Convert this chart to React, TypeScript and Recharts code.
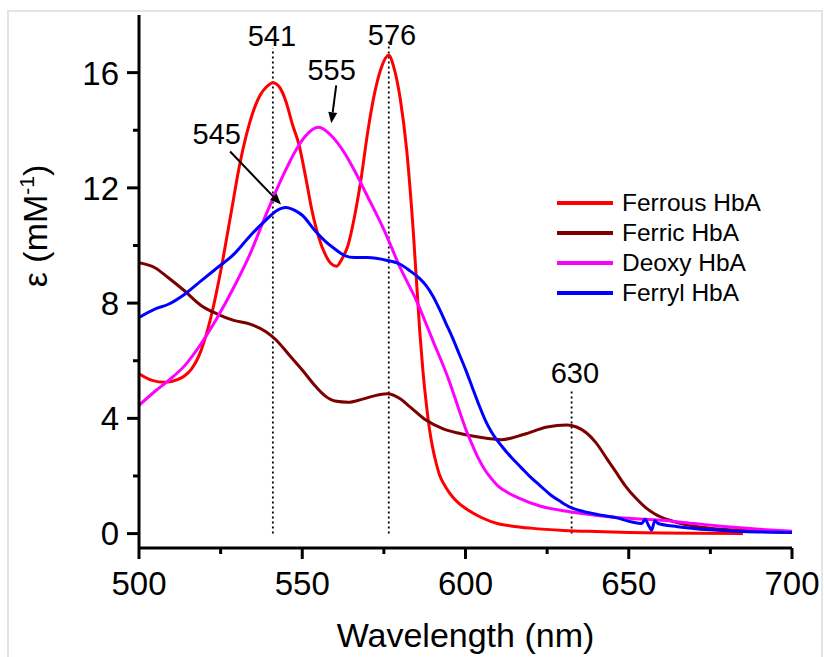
import { LineChart, Line, XAxis, YAxis, ReferenceLine, ReferenceDot, Legend } from 'recharts'

// Ferrous HbA (red)
const ferrousWl = [500, 504, 508, 512, 514, 516, 519, 522, 525, 528, 531, 534, 537, 539, 541, 543, 545, 547, 549, 551, 553, 555, 557, 559, 560.5, 562, 564, 566, 568, 570, 572, 574, 576.5, 578, 580, 582, 584, 586, 587, 588, 589, 590, 591, 592, 594, 596, 598, 601, 605, 610, 615, 620, 630, 640, 650, 660, 670, 685]
const ferrousEps = [5.55, 5.32, 5.25, 5.35, 5.48, 5.7, 6.35, 7.5, 9.1, 11.0, 12.9, 14.3, 15.2, 15.5, 15.65, 15.5, 15.0, 14.2, 13.5, 12.4, 11.2, 10.3, 9.7, 9.35, 9.28, 9.5, 10.0, 11.0, 12.3, 13.9, 15.2, 16.1, 16.6, 16.2, 15.1, 13.3, 10.5, 7.0, 5.6, 4.5, 3.6, 2.95, 2.45, 2.05, 1.6, 1.28, 1.05, 0.8, 0.55, 0.34, 0.25, 0.19, 0.11, 0.07, 0.04, 0.02, 0.01, 0]

// Ferric HbA (dark red)
const ferricWl = [500, 505, 509, 514, 519, 524, 529, 534, 539, 542, 546, 550, 554, 557, 560, 564, 568, 572, 576, 580, 583, 588, 593, 598, 604, 611, 618, 625, 631, 634, 637, 640, 643, 646, 649, 652, 655, 658, 662, 666, 670, 680, 690, 700]
const ferricEps = [9.4, 9.22, 8.88, 8.42, 7.92, 7.62, 7.4, 7.27, 7.0, 6.72, 6.2, 5.68, 5.12, 4.78, 4.6, 4.56, 4.65, 4.78, 4.85, 4.68, 4.4, 3.93, 3.64, 3.48, 3.35, 3.26, 3.45, 3.7, 3.77, 3.7, 3.5, 3.15, 2.65, 2.15, 1.65, 1.25, 0.92, 0.68, 0.48, 0.35, 0.26, 0.14, 0.08, 0.05]

// Deoxy HbA (magenta)
const deoxyWl = [500, 505, 509, 514, 519, 524, 529, 534, 539, 544, 548, 551, 555, 559, 563, 566, 570, 575, 580, 585, 590, 595, 598, 600, 602, 604, 606, 608, 610, 613, 616, 623, 632, 641, 650, 660, 670, 680, 690, 700]
const deoxyEps = [4.45, 4.95, 5.31, 5.83, 6.59, 7.5, 8.54, 9.7, 11.1, 12.4, 13.3, 13.8, 14.1, 13.8, 13.2, 12.6, 11.7, 10.55, 9.23, 8.08, 6.7, 5.3, 4.3, 3.65, 3.1, 2.6, 2.2, 1.9, 1.65, 1.42, 1.25, 0.95, 0.76, 0.62, 0.53, 0.46, 0.35, 0.24, 0.15, 0.08]

// Ferryl HbA (blue)
const ferrylWl = [500, 505, 509, 514, 519, 524, 529, 534, 539, 542, 545, 548, 550, 554, 557, 560, 563, 566, 570, 576, 580, 583, 586, 588, 590, 592, 594, 596, 598, 600, 602, 604, 606, 608, 611, 614, 617, 620, 623, 626, 629, 632, 635, 641, 647, 651, 654, 655, 656, 657, 658, 659, 665, 675, 685, 700]
const ferrylEps = [7.5, 7.8, 7.96, 8.31, 8.77, 9.23, 9.69, 10.33, 10.9, 11.2, 11.32, 11.2, 11.05, 10.5, 10.15, 9.88, 9.65, 9.58, 9.58, 9.48, 9.35, 9.12, 8.85, 8.6, 8.25, 7.8, 7.3, 6.8, 6.25, 5.7, 5.1, 4.5, 3.95, 3.52, 3.05, 2.65, 2.3, 1.95, 1.65, 1.35, 1.12, 0.92, 0.8, 0.65, 0.53, 0.4, 0.35, 0.5, 0.3, 0.12, 0.45, 0.35, 0.24, 0.13, 0.07, 0.04]

const seriesNames = ['Ferrous HbA', 'Ferric HbA', 'Deoxy HbA', 'Ferryl HbA']
const seriesColors = ['#ff0000', '#7d0000', '#ff00ff', '#0000ff']

const xTicks = [500, 525, 550, 575, 600, 625, 650, 675, 700]
const yTicks = [0, 2, 4, 6, 8, 10, 12, 14, 16]

// dotted markers at the band maxima
const markerWl = [541, 576.5, 632.5]
const markerTop = [16.85, 17.1, 5.0]

// peak labels
const peakText = ['541', '576', '630', '555', '545']
const peakLabelWl = [540.7, 577.5, 633.5, 559, 523.8]
const peakLabelEps = [17.27, 17.33, 5.6, 16.1, 13.9]

// arrows pointing at the 555 / 545 maxima
const arrowFromWl = [560.4, 527.9]
const arrowFromEps = [15.56, 13.26]
const arrowToWl = [558.9, 543.5]
const arrowToEps = [14.24, 11.42]

const FONT = '"Liberation Sans", Arial, Helvetica, sans-serif'

const zip = (xs: number[], ys: number[]) => xs.map((x, i) => ({ x, y: ys[i] }))
const seriesData = [
  zip(ferrousWl, ferrousEps),
  zip(ferricWl, ferricEps),
  zip(deoxyWl, deoxyEps),
  zip(ferrylWl, ferrylEps),
]

const XTick = (p: any) => {
  const v = p.payload.value
  const major = v % 50 === 0
  return (
    <g>
      <line x1={p.x} x2={p.x} y1={p.y} y2={p.y + (major ? 11 : 6)} stroke="#000" strokeWidth={3} />
      {major && (
        <text x={p.x} y={p.y + 47} textAnchor="middle" fontSize={33} fontFamily={FONT} fill="#000">
          {v}
        </text>
      )}
    </g>
  )
}

const YTick = (p: any) => {
  const v = p.payload.value
  const major = v % 4 === 0
  return (
    <g>
      <line x1={p.x} x2={p.x - (major ? 12 : 6)} y1={p.y} y2={p.y} stroke="#000" strokeWidth={3} />
      {major && (
        <text x={p.x - 20} y={p.y} dy="0.36em" textAnchor="end" fontSize={33} fontFamily={FONT} fill="#000">
          {v}
        </text>
      )}
    </g>
  )
}

const XTitle = (p: any) => {
  const vb = p.viewBox
  return (
    <text x={vb.x + vb.width / 2} y={vb.y + 99} textAnchor="middle" fontSize={34} fontFamily={FONT} fill="#000">
      Wavelength (nm)
    </text>
  )
}

const YTitle = (p: any) => {
  const vb = p.viewBox
  return (
    <text
      transform={`translate(${vb.x - 12}, ${vb.y + 211}) rotate(-90)`}
      textAnchor="middle"
      fontSize={34}
      fontFamily={FONT}
      fill="#000"
    >
      <tspan>ε (mM</tspan>
      <tspan dy={-13} fontSize={21}>-1</tspan>
      <tspan dy={13}>)</tspan>
    </text>
  )
}

const Arrow = (p: any) => {
  const { x1, y1, x2, y2 } = p
  const dx = x2 - x1
  const dy = y2 - y1
  const len = Math.sqrt(dx * dx + dy * dy)
  const ux = dx / len
  const uy = dy / len
  const hl = 11
  const hw = 4.5
  const bx = x2 - ux * hl
  const by = y2 - uy * hl
  return (
    <g>
      <line x1={x1} y1={y1} x2={bx} y2={by} stroke="#000" strokeWidth={2} />
      <polygon
        points={`${x2},${y2} ${bx - uy * hw},${by + ux * hw} ${bx + uy * hw},${by - ux * hw}`}
        fill="#000"
      />
    </g>
  )
}

const LegendBox = () => (
  <div style={{ fontFamily: FONT }}>
    {seriesNames.map((name, i) => (
      <div key={name} style={{ display: 'flex', alignItems: 'center', height: 30 }}>
        <div style={{ width: 56, height: 4, background: seriesColors[i], marginRight: 9 }} />
        <span style={{ fontSize: 24.5, color: '#000', lineHeight: '30px' }}>{name}</span>
      </div>
    ))}
  </div>
)

export default function App() {
  return (
    <div style={{ position: 'absolute', left: 0, top: 0, width: 824, height: 657, background: '#fff', overflow: 'hidden' }}>
      <div
        style={{
          position: 'absolute',
          left: 7,
          top: 10,
          width: 816,
          height: 660,
          border: '2px solid #e4e4e4',
          boxSizing: 'border-box',
        }}
      />
      <div style={{ position: 'absolute', left: 0, top: 0 }}>
        <LineChart width={824} height={657} margin={{ top: 15, right: 32, bottom: 0, left: 59 }}>
          <XAxis
            type="number"
            dataKey="x"
            domain={[500, 700]}
            allowDataOverflow
            ticks={xTicks}
            interval={0}
            height={109}
            tickSize={0}
            tickMargin={0}
            tickLine={false}
            tick={<XTick />}
            axisLine={{ stroke: '#000', strokeWidth: 3 }}
            label={XTitle}
          />
          <YAxis
            type="number"
            dataKey="y"
            domain={[-0.5, 18]}
            allowDataOverflow
            ticks={yTicks}
            interval={0}
            width={80}
            tickSize={0}
            tickMargin={0}
            tickLine={false}
            tick={<YTick />}
            axisLine={{ stroke: '#000', strokeWidth: 3 }}
            label={YTitle}
          />
          {markerWl.map((w, i) => (
            <ReferenceLine
              key={`m-${w}`}
              segment={[
                { x: w, y: 0 },
                { x: w, y: markerTop[i] },
              ]}
              stroke="#000"
              strokeWidth={1.8}
              strokeDasharray="2 3"
            />
          ))}
          {seriesData.map((d, i) => (
            <Line
              key={seriesNames[i]}
              data={d}
              dataKey="y"
              name={seriesNames[i]}
              type="monotone"
              stroke={seriesColors[i]}
              strokeWidth={3}
              dot={false}
              activeDot={false}
              isAnimationActive={false}
            />
          ))}
          {arrowFromWl.map((w, i) => (
            <ReferenceLine
              key={`a-${i}`}
              segment={[
                { x: w, y: arrowFromEps[i] },
                { x: arrowToWl[i], y: arrowToEps[i] },
              ]}
              shape={Arrow}
            />
          ))}
          {peakText.map((t, i) => (
            <ReferenceDot
              key={`t-${t}`}
              x={peakLabelWl[i]}
              y={peakLabelEps[i]}
              r={1}
              shape={(p: any) => (
                <text x={p.cx} y={p.cy} dy="0.36em" textAnchor="middle" fontSize={29} fontFamily={FONT} fill="#000">
                  {t}
                </text>
              )}
            />
          ))}
          <Legend
            layout="vertical"
            align="center"
            verticalAlign="middle"
            wrapperStyle={{ left: 557, top: 188, width: 'auto' }}
            content={<LegendBox />}
          />
        </LineChart>
      </div>
    </div>
  )
}
